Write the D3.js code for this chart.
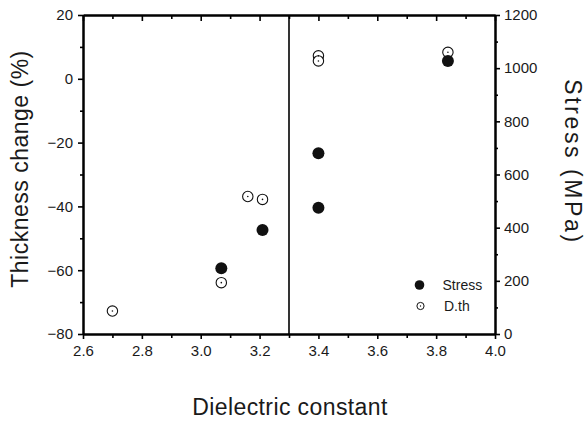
<!DOCTYPE html>
<html>
<head>
<meta charset="utf-8">
<script src="https://cdn.jsdelivr.net/npm/d3@7/dist/d3.min.js"></script>
<style>
  html, body { margin: 0; padding: 0; background: #fff; }
  svg { display: block; font-family: Arial, "Liberation Sans", Helvetica, sans-serif; }
</style>
</head>
<body>
<svg id="chart" width="586" height="421"></svg>
<script>
// Data
const dthX = [2.70, 3.07, 3.16, 3.21, 3.40, 3.40, 3.84];
const dthY = [-72.8, -63.9, -36.9, -37.8, 7.2, 5.6, 8.3];
const stressX = [3.07, 3.21, 3.40, 3.40, 3.84];
const stressY = [247, 391, 680, 475, 1027];
const xTicks = [2.6, 2.8, 3.0, 3.2, 3.4, 3.6, 3.8, 4.0];
const xMinor = [2.7, 2.9, 3.1, 3.3, 3.5, 3.7, 3.9];
const yLeftTicks = [20, 0, -20, -40, -60, -80];
const yLeftMinor = [10, -10, -30, -50, -70];
const yRightTicks = [0, 200, 400, 600, 800, 1000, 1200];
const yRightMinor = [100, 300, 500, 700, 900, 1100];
const dividerX = [3.3];
const legendItems = ["Stress", "D.th"];

const svg = d3.select("#chart");
const L = 83, R = 495, T = 15, B = 334;

const x = d3.scaleLinear().domain([2.6, 4.0]).range([L, R]);
const yL = d3.scaleLinear().domain([-80, 20]).range([B, T]);
const yR = d3.scaleLinear().domain([0, 1200]).range([B, T]);

const tickFont = "15px";

// Bottom axis
const gB = svg.append("g").attr("transform", `translate(0,${B})`);
gB.call(d3.axisBottom(x).tickValues(xTicks).tickSize(5).tickSizeOuter(0).tickPadding(6).tickFormat(d3.format(".1f")));
gB.append("g").call(d3.axisBottom(x).tickValues(xMinor).tickSize(4).tickSizeOuter(0).tickFormat(""));

// Top axis (ticks inward)
const gT = svg.append("g").attr("transform", `translate(0,${T})`);
gT.call(d3.axisBottom(x).tickValues(xTicks).tickSize(6).tickSizeOuter(0).tickFormat(""));
gT.append("g").call(d3.axisBottom(x).tickValues(xMinor).tickSize(4).tickSizeOuter(0).tickFormat(""));

// Left axis
const gL = svg.append("g").attr("transform", `translate(${L},0)`);
gL.call(d3.axisLeft(yL).tickValues(yLeftTicks).tickSize(5).tickSizeOuter(0).tickPadding(5).tickFormat(d3.format("d")));
gL.append("g").call(d3.axisLeft(yL).tickValues(yLeftMinor).tickSize(3).tickSizeOuter(0).tickFormat(""));

// Right axis
const gR = svg.append("g").attr("transform", `translate(${R},0)`);
gR.call(d3.axisRight(yR).tickValues(yRightTicks).tickSize(5).tickSizeOuter(0).tickPadding(4).tickFormat(d3.format("d")));
gR.append("g").call(d3.axisRight(yR).tickValues(yRightMinor).tickSize(3).tickSizeOuter(0).tickFormat(""));

svg.selectAll(".domain").attr("stroke", "#000").attr("stroke-width", 2);
svg.selectAll(".tick line").attr("stroke", "#000").attr("stroke-width", 1.6);
svg.selectAll(".tick text").attr("fill", "#1a1a1a").style("font-size", tickFont)
  .style("font-family", "Arial, 'Liberation Sans', Helvetica, sans-serif");

// Divider line
svg.selectAll(".divider").data(dividerX).enter().append("line")
  .attr("x1", d => x(d)).attr("x2", d => x(d))
  .attr("y1", T).attr("y2", B)
  .attr("stroke", "#000").attr("stroke-width", 1.6);

// D.th open circles (left axis)
const dth = dthX.map((d, i) => ({ x: d, y: dthY[i] }));
const gD = svg.append("g");
gD.selectAll("circle.ring").data(dth).enter().append("circle")
  .attr("cx", d => x(d.x)).attr("cy", d => yL(d.y)).attr("r", 5.2)
  .attr("fill", "#fff").attr("stroke", "#111").attr("stroke-width", 1.1);
gD.selectAll("circle.dot").data(dth).enter().append("circle")
  .attr("cx", d => x(d.x)).attr("cy", d => yL(d.y)).attr("r", 0.8)
  .attr("fill", "#111");

// Stress filled circles (right axis)
const st = stressX.map((d, i) => ({ x: d, y: stressY[i] }));
svg.append("g").selectAll("circle").data(st).enter().append("circle")
  .attr("cx", d => x(d.x)).attr("cy", d => yR(d.y)).attr("r", 6)
  .attr("fill", "#111");

// Legend
const lg = svg.append("g");
lg.append("circle").attr("cx", 419.5).attr("cy", 285).attr("r", 4.8).attr("fill", "#111");
lg.append("circle").attr("cx", 420.5).attr("cy", 306).attr("r", 3.6).attr("fill", "#fff").attr("stroke", "#111").attr("stroke-width", 1);
lg.append("circle").attr("cx", 420.5).attr("cy", 306).attr("r", 0.7).attr("fill", "#111");
lg.selectAll("text").data(legendItems).enter().append("text")
  .attr("x", (d, i) => i === 0 ? 442.5 : 444)
  .attr("y", (d, i) => i === 0 ? 290 : 311)
  .style("font-size", "14px").attr("fill", "#1a1a1a")
  .text(d => d);

// Axis titles
svg.append("text")
  .attr("transform", `translate(28,169) rotate(-90)`)
  .attr("text-anchor", "middle")
  .style("font-size", "23px").style("letter-spacing", "0.5px").attr("fill", "#1a1a1a")
  .text("Thickness change (%)");

svg.append("text")
  .attr("transform", `translate(565,162) rotate(90)`)
  .attr("text-anchor", "middle")
  .style("font-size", "23px").style("letter-spacing", "2.6px").attr("fill", "#1a1a1a")
  .text("Stress (MPa)");

svg.append("text")
  .attr("x", 290).attr("y", 415)
  .attr("text-anchor", "middle")
  .style("font-size", "23px").style("letter-spacing", "0.4px").attr("fill", "#1a1a1a")
  .text("Dielectric constant");
</script>
</body>
</html>
